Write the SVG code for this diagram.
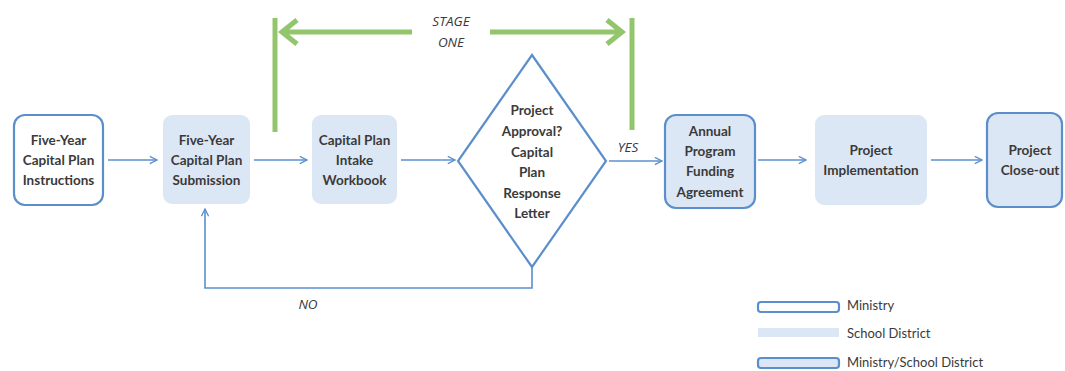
<svg xmlns="http://www.w3.org/2000/svg" width="1065" height="371" viewBox="0 0 1065 371">
<style>
.t{font-family:Lato,"Open Sans","Liberation Sans",sans-serif;font-size:13.5px;font-weight:bold;fill:#3a3a3a;text-anchor:middle}
.i{font-family:"Open Sans","Liberation Sans",sans-serif;font-size:13.5px;font-style:italic;fill:#3a3a3a;text-anchor:middle}
.l{font-family:Lato,"Open Sans","Liberation Sans",sans-serif;font-size:13px;fill:#3a3a3a}
.m{fill:#fff;stroke:#5b8fcc;stroke-width:2.2}
.s{fill:#dce7f5;stroke:none}
.ms{fill:#dce7f5;stroke:#5b8fcc;stroke-width:2.2}
.c{fill:none;stroke:#5b8fcc;stroke-width:1.6}
.g{fill:none;stroke:#92c56c;stroke-width:5}
</style>
<defs>
<marker id="a" viewBox="0 0 10 10" refX="9" refY="5" markerWidth="9" markerHeight="9" markerUnits="userSpaceOnUse" orient="auto">
<path d="M1,1 L9,5 L1,9" fill="none" stroke="#5b8fcc" stroke-width="1.5"/>
</marker>
</defs>
<rect width="1065" height="371" fill="#fff"/>
<g id="stage-one">
<line class="g" x1="275" y1="18" x2="275" y2="132"/>
<line class="g" x1="632" y1="18" x2="632" y2="130"/>
<path class="g" d="M412,32 L282,32 M297,20 L282,32 L297,44"/>
<path class="g" d="M490,32 L622,32 M607,20 L622,32 L607,44"/>
<text class="i" x="451" y="26">STAGE</text>
<text class="i" x="451" y="47">ONE</text>
</g>
<g id="connectors">
<line class="c" x1="108" y1="160" x2="157" y2="160" marker-end="url(#a)"/>
<line class="c" x1="254" y1="160" x2="307" y2="160" marker-end="url(#a)"/>
<line class="c" x1="401" y1="160" x2="455" y2="160" marker-end="url(#a)"/>
<line class="c" x1="609" y1="161" x2="662" y2="161" marker-end="url(#a)"/>
<line class="c" x1="758" y1="160" x2="806" y2="160" marker-end="url(#a)"/>
<line class="c" x1="931" y1="160" x2="982" y2="160" marker-end="url(#a)"/>
<path class="c" d="M532,267 L532,288 L205,288 L205,209" marker-end="url(#a)"/>
<text class="i" x="628" y="152">YES</text>
<text class="i" x="308" y="309">NO</text>
</g>
<g id="n1">
<rect class="m" x="14" y="115" width="89" height="90" rx="11"/>
<text class="t" x="58.5" y="145">Five-Year</text>
<text class="t" x="58.5" y="165">Capital Plan</text>
<text class="t" x="58.5" y="185">Instructions</text>
</g>
<g id="n2">
<rect class="s" x="163" y="115" width="87" height="89" rx="9"/>
<text class="t" x="206.5" y="145">Five-Year</text>
<text class="t" x="206.5" y="165">Capital Plan</text>
<text class="t" x="206.5" y="185">Submission</text>
</g>
<g id="n3">
<rect class="s" x="312" y="115" width="85" height="89" rx="9"/>
<text class="t" x="354.5" y="145">Capital Plan</text>
<text class="t" x="354.5" y="165">Intake</text>
<text class="t" x="354.5" y="185">Workbook</text>
</g>
<g id="n4">
<polygon class="m" points="532,55 606,161 532,267 458,161" stroke-width="1.8"/>
<text class="t" x="532" y="115">Project</text>
<text class="t" x="532" y="136">Approval?</text>
<text class="t" x="532" y="157">Capital</text>
<text class="t" x="532" y="177">Plan</text>
<text class="t" x="532" y="198">Response</text>
<text class="t" x="532" y="218">Letter</text>
</g>
<g id="n5">
<rect class="ms" x="665" y="115" width="90" height="93" rx="11"/>
<text class="t" x="710" y="136">Annual</text>
<text class="t" x="710" y="156">Program</text>
<text class="t" x="710" y="176">Funding</text>
<text class="t" x="710" y="197">Agreement</text>
</g>
<g id="n6">
<rect class="s" x="815" y="115" width="112" height="90" rx="9"/>
<text class="t" x="871" y="155">Project</text>
<text class="t" x="871" y="175">Implementation</text>
</g>
<g id="n7">
<rect class="ms" x="987" y="113" width="75" height="94" rx="11"/>
<text class="t" x="1030" y="155">Project</text>
<text class="t" x="1030" y="175">Close-out</text>
</g>
<g id="legend">
<rect class="m" x="758" y="302" width="81" height="10" rx="3" stroke-width="1.8"/>
<text class="l" x="847" y="310">Ministry</text>
<rect class="s" x="758" y="328" width="81" height="9"/>
<text class="l" x="847" y="338">School District</text>
<rect class="ms" x="758" y="358" width="81" height="10" rx="3" stroke-width="1.8"/>
<text class="l" x="847" y="367">Ministry/School District</text>
</g>
</svg>
